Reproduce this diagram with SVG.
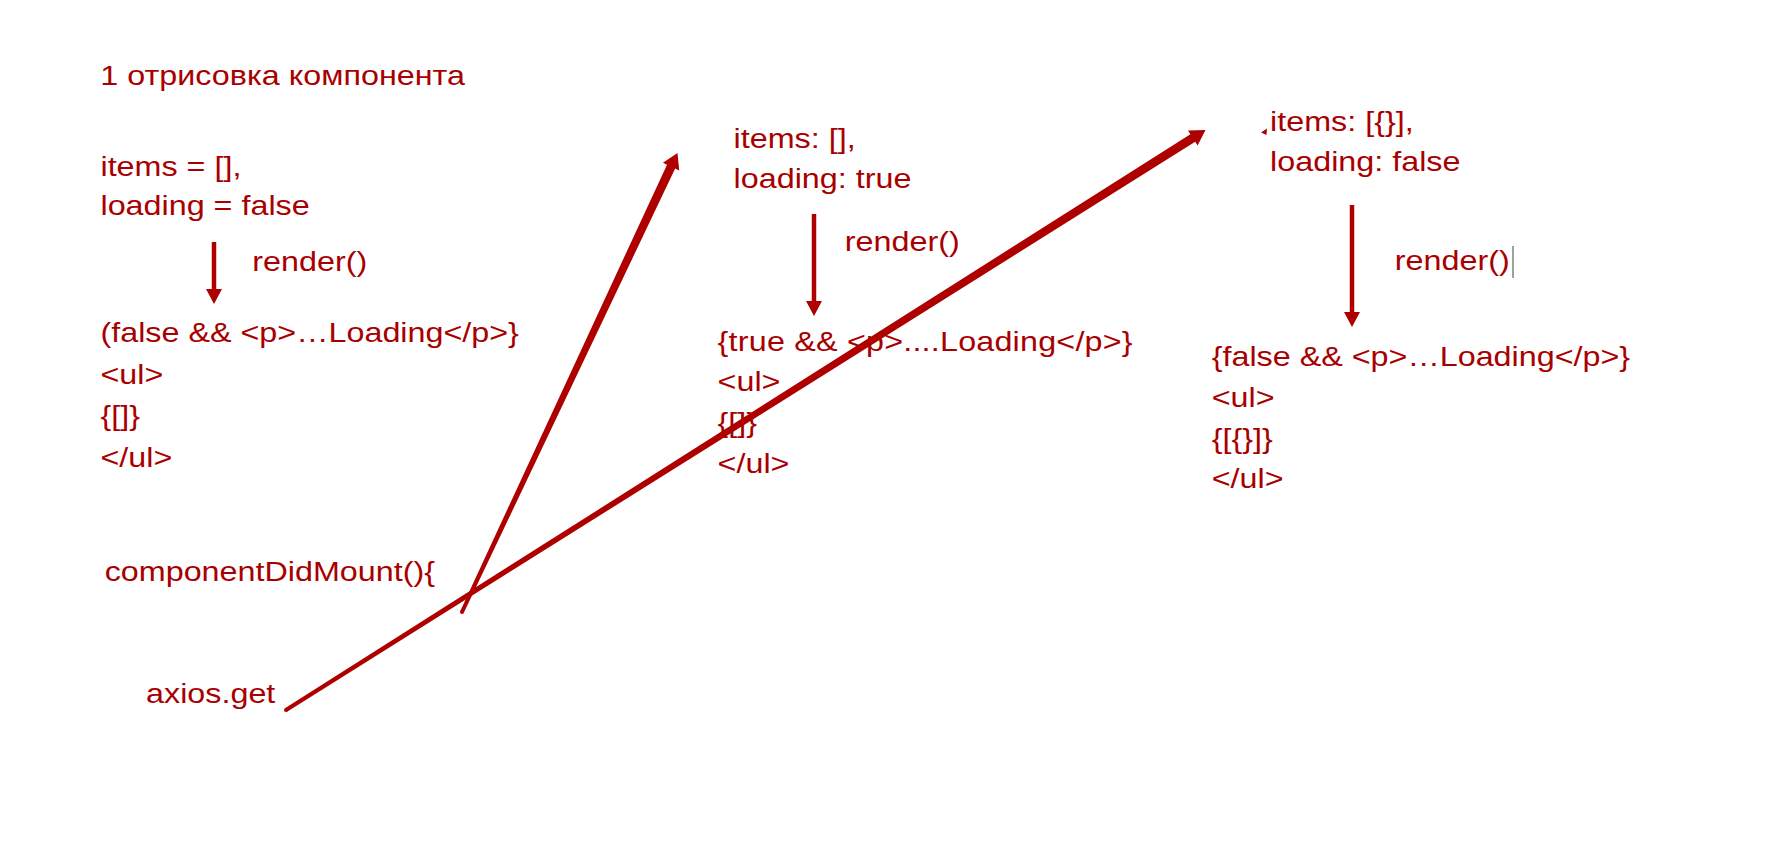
<svg xmlns="http://www.w3.org/2000/svg" width="1778" height="858" viewBox="0 0 1778 858">
<defs>
<style>
.t{font-family:"Liberation Sans",Arial,sans-serif;font-size:28.5px;fill:#a80000;}
.ln{stroke:#af0000;stroke-width:4.5;fill:none;}
.fl{fill:#af0000;stroke:none;}
</style>
<marker id="ah" viewBox="0 0 15 16" refX="1" refY="8" markerWidth="15" markerHeight="16" markerUnits="userSpaceOnUse" orient="auto">
<path d="M0,0 L15,8 L0,16 Z" fill="#af0000"/>
</marker>
</defs>
<rect width="1778" height="858" fill="#ffffff"/>
<g transform="scale(1.134,1)">
<g id="title"><text class="t" x="88.5" y="85.5">1 отрисовка компонента</text></g>
<g id="state1">
<text class="t" x="88.6" y="176">items = [],</text>
<text class="t" x="88.6" y="215.5">loading = false</text>
</g>
<g id="render1"><text class="t" x="222.5" y="271.5">render()</text></g>
<g id="jsx1">
<text class="t" x="88.6" y="342">(false &amp;&amp; &lt;p&gt;…Loading&lt;/p&gt;}</text>
<text class="t" x="88.6" y="384">&lt;ul&gt;</text>
<text class="t" x="88.6" y="425">{[]}</text>
<text class="t" x="88.6" y="467">&lt;/ul&gt;</text>
</g>
<g id="cdm"><text class="t" x="92.3" y="581">componentDidMount(){</text></g>
<g id="axios"><text class="t" x="128.8" y="703">axios.get</text></g>
<g id="state2">
<text class="t" x="646.9" y="148">items: [],</text>
<text class="t" x="646.9" y="188">loading: true</text>
</g>
<g id="render2"><text class="t" x="745" y="251.5">render()</text></g>
<g id="jsx2">
<text class="t" x="632.8" y="351.5" textLength="366" lengthAdjust="spacing">{true &amp;&amp; &lt;p&gt;....Loading&lt;/p&gt;}</text>
<text class="t" x="632.8" y="391.5">&lt;ul&gt;</text>
<text class="t" x="632.8" y="432">{[]}</text>
<text class="t" x="632.8" y="473">&lt;/ul&gt;</text>
</g>
<g id="state3">
<text class="t" x="1120" y="131.5">items: [{}],</text>
<text class="t" x="1120" y="171.5">loading: false</text>
</g>
<g id="render3"><text class="t" x="1230" y="270">render()</text></g>
<g id="jsx3">
<text class="t" x="1068.5" y="366.5">{false &amp;&amp; &lt;p&gt;…Loading&lt;/p&gt;}</text>
<text class="t" x="1068.5" y="407">&lt;ul&gt;</text>
<text class="t" x="1068.5" y="448">{[{}]}</text>
<text class="t" x="1068.5" y="488">&lt;/ul&gt;</text>
</g>
</g>
<line x1="1513" y1="246" x2="1513" y2="278" stroke="#808080" stroke-width="1.5"/>
<g id="connectors">
<line class="ln" x1="214" y1="242" x2="214" y2="290" marker-end="url(#ah)"/>
<line class="ln" x1="814" y1="214" x2="814" y2="302" marker-end="url(#ah)"/>
<line class="ln" x1="1352" y1="205" x2="1352" y2="313" marker-end="url(#ah)"/>
<polygon class="fl" points="463.81,612.85 675.16,168.48 679.23,170.41 677.5,153 662.95,162.71 667.02,164.64 460.19,611.15"/>
<circle class="fl" cx="462" cy="612" r="2"/>
<polygon class="fl" points="287.07,711.69 1195.21,141.82 1197.61,145.62 1205.5,130 1188.01,130.4 1190.41,134.2 284.93,708.31"/>
<circle class="fl" cx="286" cy="710" r="2"/>
<polygon class="fl" points="1261,132.5 1267,128.5 1266.5,135"/>
</g>
</svg>
